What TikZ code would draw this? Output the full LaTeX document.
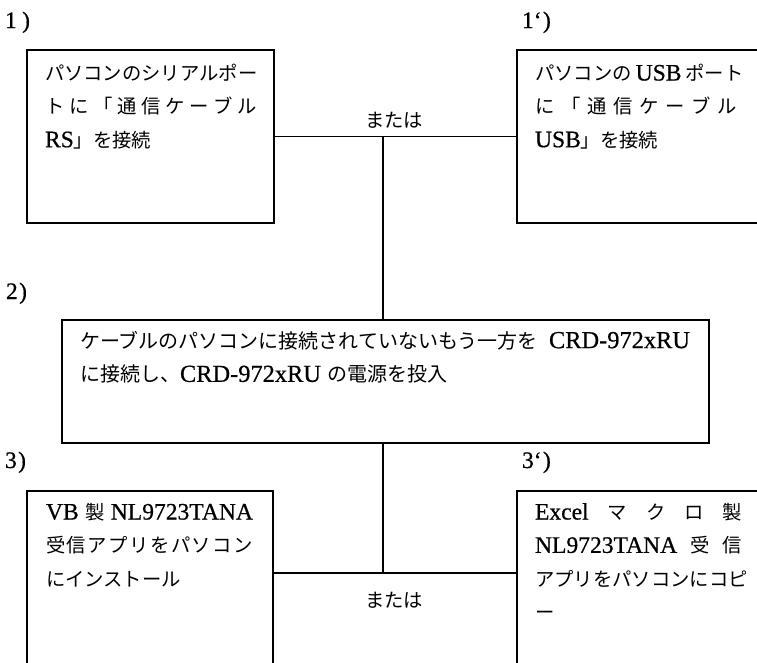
\documentclass[tikz,border=0pt]{standalone}
\usepackage{fontspec}
\setmainfont{Noto Sans CJK JP}
\newfontfamily\lat[Scale=1.22,FakeBold=0.6]{Liberation Serif}
\newcommand\jsize{\fontsize{14.5pt}{25pt}\selectfont}
\newcommand\jbig{\fontsize{15pt}{25.3pt}\selectfont}
\newcommand\jline[2]{\hbox to #1{#2}}
\newcommand\jst{\rule{0pt}{0.88em}}
\tikzset{
  box/.style={draw, line width=2.2pt, rectangle, outer sep=0pt, inner sep=0pt, anchor=north west},
  conn/.style={line width=1.3pt},
  txt/.style={anchor=north west, inner sep=0pt, outer sep=0pt, align=left, font=\jsize},
  lbl/.style={anchor=base west, inner sep=0pt, outer sep=0pt, font=\jsize\lat},
  ortxt/.style={anchor=base, inner sep=0pt, outer sep=0pt, font=\jsize},
}
\begin{document}
\begin{tikzpicture}[x=0.75pt,y=-0.75pt]
\useasboundingbox (0,0) rectangle (757,662);
\clip (0,0) rectangle (757,662);
% labels
\node[lbl] (l1) at (5,28) {1\hspace{4pt})};
\node[lbl] (l1p) at (522,28) {1‘\hspace{1pt})};
\node[lbl] (l2) at (6,299) {2\hspace{1pt})};
\node[lbl] (l3) at (5,468) {3\hspace{1pt})};
\node[lbl] (l3p) at (522,468) {3‘\hspace{1pt})};
% boxes
\node[box, minimum width=185.25pt, minimum height=129.75pt] (b1) at (27,50) {};
\node[box, minimum width=212.25pt, minimum height=129.75pt] (b1p) at (517,50) {};
\node[box, minimum width=485.25pt, minimum height=92.25pt] (b2) at (62,320) {};
\node[box, minimum width=184.5pt, minimum height=171.75pt] (b3) at (27,491) {};
\node[box, minimum width=212.25pt, minimum height=171.75pt] (b3p) at (517,491) {};
% texts
\node[txt, text width=160pt] (t1) at (45,63.5) {%
\jst\mbox{パソコンのシリアルポー}\\
\jst\jline{159pt}{ト\hfill に\hfill 「\hfill 通\hfill 信\hfill ケ\hfill ー\hfill ブ\hfill ル}\\
\jst\mbox{{\lat RS}」を接続}};
\node[txt, text width=152pt] (t1p) at (535,63.5) {%
\jst\jline{151.5pt}{パソコンの\hspace{3pt}\hfill{\lat USB}\hspace{3pt}\hfill ポート}\\
\jst\jline{151.5pt}{に\hfill 「\hfill 通\hfill 信\hfill ケ\hfill ー\hfill ブ\hfill ル}\\
\jst\mbox{{\lat USB}」を接続}};
\node[txt, text width=458pt, font=\jbig] (t2) at (80,330.5) {%
\jst\jline{457.5pt}{ケーブルのパソコンに接続されていないもう一方を\hfill{\lat CRD-972xRU}}\\
\jst\mbox{に接続し、{\lat CRD-972xRU} の電源を投入}};
\node[txt, text width=158pt] (t3) at (46,502.5) {%
\jst\jline{155.25pt}{{\lat VB}\hfill 製\hfill{\lat NL9723TANA}}\\
\jst\jline{155.25pt}{受\hfill 信\hfill ア\hfill プ\hfill リ\hfill を\hfill パ\hfill ソ\hfill コ\hfill ン}\\
\jst\mbox{にインストール}};
\node[txt, text width=158pt] (t3p) at (535,502.5) {%
\jst\jline{155.25pt}{{\lat Excel}\hfill マ\hfill ク\hfill ロ\hfill 製}\\
\jst\jline{155.25pt}{{\lat NL9723TANA}\hfill 受\hfill 信}\\
\jst\mbox{アプリをパソコンにコピ}\\
\jst\mbox{ー}};
% connectors
\coordinate (j1) at (383,136.5);
\coordinate (j2) at (383,573);
\draw[conn] (b1.east) -- (b1p.west);
\draw[conn] (j1) -- (j1 |- b2.north);
\draw[conn] (j2 |- b2.south) -- (j2);
\draw[conn] (b3.east |- j2) -- (b3p.west |- j2);
\node[ortxt] (or1) at (394,127.5) {または};
\node[ortxt] (or2) at (394,607) {または};
\end{tikzpicture}
\end{document}
